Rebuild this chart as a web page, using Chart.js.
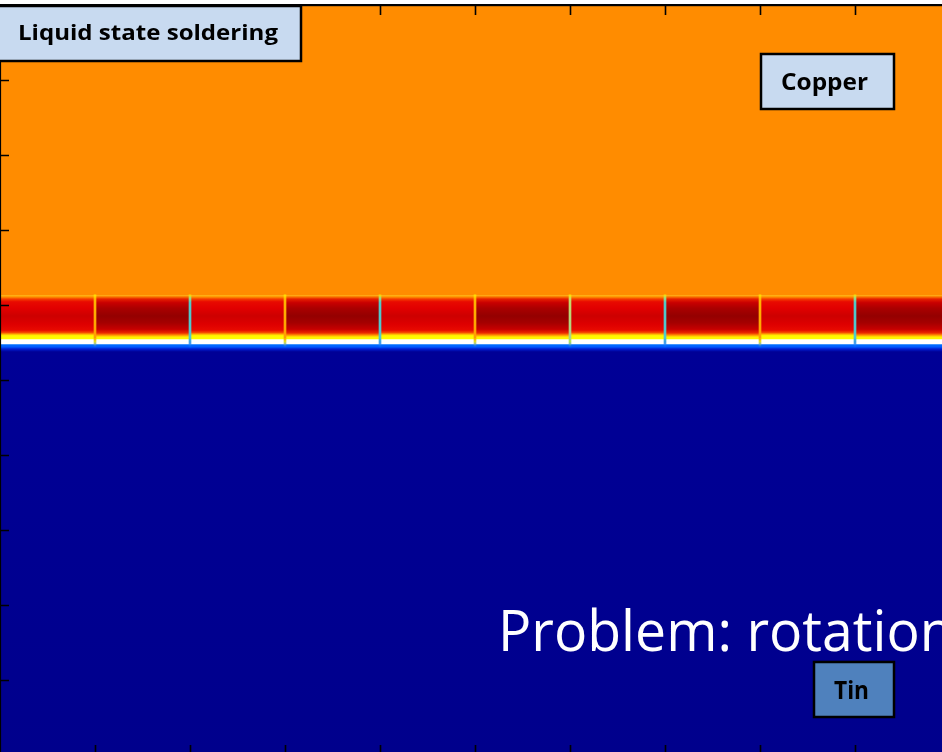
<!DOCTYPE html>
<html>
<head>
<meta charset="utf-8">
<title>Liquid state soldering</title>
<script src="https://cdn.jsdelivr.net/npm/chart.js@4.4.1/dist/chart.umd.min.js"></script>
<style>
  html, body { margin: 0; padding: 0; background: #ffffff; width: 942px; height: 752px; overflow: hidden; }
  #wrap { position: absolute; left: 0; top: 0; width: 950px; height: 760px; }
</style>
</head>
<body>
<div id="wrap"><canvas id="field" width="950" height="760"></canvas></div>
<script>
// ---- Simulation snapshot: Cu / Cu6Sn5 scallops / liquid Sn -------------------
// Grid units: one x unit per IMC grain, y measured downward from the Cu top.
const grainCenters = [0.5, 1.5, 2.5, 3.5, 4.5, 5.5, 6.5, 7.5, 8.5, 9.5];
const grainShade   = ['light', 'dark', 'light', 'dark', 'light', 'dark', 'light', 'dark', 'light', 'dark'];

const copperTop    = 0;
const copperBottom = 3.90;
const imcTop       = 3.86;
const imcBottom    = 4.47;
const filmTop      = 4.462;   // thin liquid film at the IMC / Sn interface
const filmBottom   = 4.52;
const tinTop       = 4.515;
const tinBottom    = 10;

const boundaryX    = [1, 2, 3, 4, 5, 6, 7, 8, 9];
const boundaryKind = ['orange', 'cyan', 'orange', 'cyan', 'orange', 'green', 'cyan', 'orange', 'cyan'];
const boundaryTop    = 3.865;
const boundaryBottom = 4.56;

const xTicks = [1, 2, 3, 4, 5, 6, 7, 8, 9];
const yTicks = [1, 2, 3, 4, 5, 6, 7, 8, 9];

// ---- colour profiles (fraction of layer thickness -> colour) ---------------
const imcProfile = {
  light: [[0, '#ff8c00'], [0.02, '#ffb014'], [0.05, '#ff9600'], [0.10, '#f53c00'], [0.16, '#e80a00'],
          [0.30, '#e10000'], [0.47, '#cd0000'], [0.65, '#de0000'], [0.78, '#e80a00'], [0.83, '#f54600'],
          [0.87, '#ffb400'], [0.90, '#fff500'], [1, '#ffff00']],
  dark:  [[0, '#ff8c00'], [0.02, '#ffaa14'], [0.05, '#fa7800'], [0.10, '#e61e00'], [0.18, '#c80000'],
          [0.30, '#aa0000'], [0.47, '#940000'], [0.62, '#a50000'], [0.76, '#c80000'], [0.84, '#eb2800'],
          [0.89, '#ff9600'], [0.93, '#fff000'], [1, '#ffff00']]
};
const tinProfile = [[0, '#0078ff'], [0.008, '#005aff'], [0.013, '#001ed2'], [0.02, '#000096'], [1, '#00008c']];
const boundaryProfile = {
  cyan:   [[0, '#ffdc00'], [0.06, '#a0dc78'], [0.15, '#50c8c8'], [0.82, '#50c8d2'], [0.9, '#3ca0e6'], [1, 'rgba(0,100,255,0.5)']],
  orange: [[0, '#ffe600'], [0.08, '#ffb400'], [0.82, '#ffa000'], [0.9, '#e6e628'], [1, 'rgba(0,100,255,0.4)']],
  green:  [[0, '#ffe600'], [0.08, '#c8dc64'], [0.82, '#aad28c'], [0.9, '#b4e650'], [1, 'rgba(0,100,255,0.4)']]
};

function verticalGradient(ctx, stops, fallback) {
  const chart = ctx.chart;
  if (ctx.type !== 'data' || !chart.chartArea) return fallback;
  const ys = chart.scales.y;
  const [v0, v1] = ctx.raw.y;
  const g = chart.ctx.createLinearGradient(0, ys.getPixelForValue(v0), 0, ys.getPixelForValue(v1));
  stops.forEach(([f, c]) => g.addColorStop(f, c));
  return g;
}

const columns = (a, b) => grainCenters.map(x => ({ x, y: [a, b] }));

const datasets = [
  {
    label: 'Sn (liquid)',
    data: columns(tinTop, tinBottom),
    backgroundColor: ctx => verticalGradient(ctx, tinProfile, '#00008c'),
    order: 5
  },
  {
    label: 'Cu',
    data: columns(copperTop, copperBottom),
    backgroundColor: '#ff8c00',
    order: 4
  },
  {
    label: 'Cu6Sn5',
    data: columns(imcTop, imcBottom),
    backgroundColor: ctx => verticalGradient(ctx, imcProfile[grainShade[ctx.dataIndex]], '#e00000'),
    order: 3
  },
  {
    label: 'Liquid film',
    data: columns(filmTop, filmBottom),
    backgroundColor: '#ffffff',
    order: 2
  },
  {
    label: 'Grain boundaries',
    data: boundaryX.map(x => ({ x, y: [boundaryTop, boundaryBottom] })),
    backgroundColor: ctx => verticalGradient(ctx, boundaryProfile[boundaryKind[ctx.dataIndex]], '#50c8c8'),
    xAxisID: 'xb',
    barThickness: 2,
    order: 1
  }
].map(d => Object.assign({ grouped: false, borderWidth: 0, categoryPercentage: 1, barPercentage: 1 }, d));

// frame and inward tick marks on the top, left and bottom edges
const framePlugin = {
  id: 'frame',
  afterDatasetsDraw(chart) {
    const { ctx, chartArea: a, scales: { x, y } } = chart;
    ctx.save();
    ctx.strokeStyle = '#000';
    ctx.lineWidth = 1.6;
    ctx.beginPath();
    xTicks.forEach(t => {
      const px = Math.round(x.getPixelForValue(t)) + 0.5;
      ctx.moveTo(px, a.top); ctx.lineTo(px, a.top + 10);
      ctx.moveTo(px, a.bottom); ctx.lineTo(px, a.bottom - 10);
    });
    yTicks.forEach(t => {
      const py = Math.round(y.getPixelForValue(t)) + 0.5;
      ctx.moveTo(a.left, py); ctx.lineTo(a.left + 9, py);
    });
    ctx.stroke();
    ctx.lineWidth = 1.2;
    ctx.beginPath();
    ctx.moveTo(a.left + 0.5, a.top); ctx.lineTo(a.left + 0.5, a.bottom);
    ctx.stroke();
    ctx.restore();
  }
};

// text boxes placed on the field; each text is fitted to its set width
const notes = [
  { text: 'Liquid state soldering', box: [-2, 6, 303, 55], fill: '#c8daf0', font: 'bold 22px "Open Sans"', x: 18,  y: 40,  width: 260 },
  { text: 'Copper',                 box: [761, 54, 133, 55], fill: '#c8daf0', font: 'bold 24px "Open Sans"', x: 781, y: 90,  width: 87 },
  { text: 'Tin',                    box: [814, 662, 80, 55], fill: '#4f81bd', font: 'bold 25px "Open Sans"', x: 834, y: 699, width: 35 }
];
const headline = { text: 'Problem: rotation', lead: 'Problem:', leadWidth: 234, font: '56px "Open Sans"', x: 498, y: 651 };

function stretchedText(ctx, text, x, y, sx) {
  ctx.save();
  ctx.translate(x, y);
  ctx.scale(sx, 1);
  ctx.fillText(text, 0, 0);
  ctx.restore();
}

const notesPlugin = {
  id: 'notes',
  afterDraw(chart) {
    const { ctx, chartArea: a } = chart;
    ctx.save();
    ctx.textAlign = 'left';
    ctx.textBaseline = 'alphabetic';
    notes.forEach(n => {
      const [bx, by, bw, bh] = n.box;
      ctx.fillStyle = n.fill;
      ctx.fillRect(bx, by, bw, bh);
      ctx.strokeStyle = '#000';
      ctx.lineWidth = 2.5;
      ctx.strokeRect(bx, by, bw, bh);
      ctx.fillStyle = '#000';
      ctx.font = n.font;
      stretchedText(ctx, n.text, n.x, n.y, n.width / ctx.measureText(n.text).width);
    });
    ctx.fillStyle = '#ffffff';
    ctx.font = headline.font;
    stretchedText(ctx, headline.text, headline.x, headline.y,
                  headline.leadWidth / ctx.measureText(headline.lead).width);
    // top edge of the frame
    ctx.fillStyle = '#000';
    ctx.fillRect(0, a.top - 1, chart.width, 2.2);
    ctx.restore();
  }
};

new Chart(document.getElementById('field'), {
  type: 'bar',
  data: { datasets },
  options: {
    responsive: false,
    animation: false,
    devicePixelRatio: 1,
    events: [],
    layout: { padding: { top: 5, left: 0, right: 0, bottom: 5 } },
    plugins: { legend: { display: false }, tooltip: { enabled: false }, title: { display: false } },
    scales: {
      x:  { type: 'linear', offset: false, min: 0, max: 10, display: false, ticks: { stepSize: 1 } },
      xb: { type: 'linear', offset: false, min: 0, max: 10, display: false, ticks: { stepSize: 1 } },
      y:  { type: 'linear', min: 0, max: 10, reverse: true, display: false, ticks: { stepSize: 1 } }
    }
  },
  plugins: [framePlugin, notesPlugin]
});
</script>
</body>
</html>
